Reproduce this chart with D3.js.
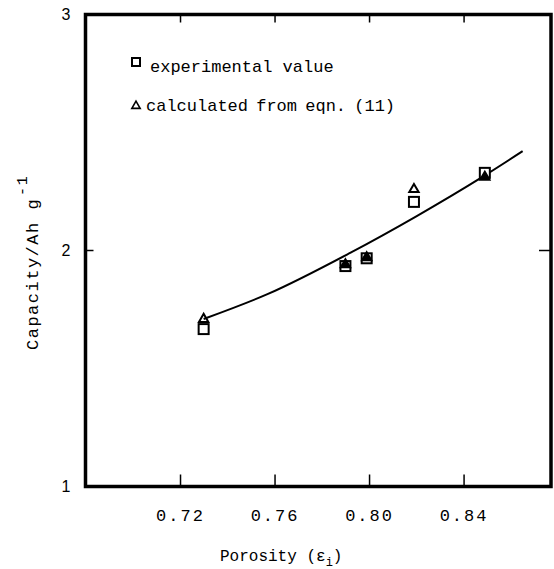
<!DOCTYPE html>
<html><head><meta charset="utf-8">
<script src="https://cdn.jsdelivr.net/npm/d3@7/dist/d3.min.js"></script>
<style>body{margin:0;background:#fff}svg{display:block}</style>
</head><body>
<script>
// Data
const porosity = [0.730, 0.790, 0.799, 0.819, 0.849];
const experimental = [1.667, 1.934, 1.967, 2.206, 2.329];
const calculated = [1.709, 1.940, 1.970, 2.259, 2.311];
const curveX = [0.730, 0.757, 0.792, 0.820, 0.848, 0.865];
const curveY = [1.710, 1.815, 1.990, 2.145, 2.312, 2.421];
const xTicks = [0.72, 0.76, 0.80, 0.84];
const yTicks = [1, 2, 3];
const legendLabels = ["experimental value", "calculated from eqn. (11)"];

(function () {
const W = 554, H = 569;
const L = 85.5, R = 551, T = 14.5, B = 486.5;
const svg = d3.select("body").append("svg").attr("width", W).attr("height", H);
const x = d3.scaleLinear().domain([0.68, 0.877]).range([L, R]);
const y = d3.scaleLinear().domain([1, 3]).range([B, T]);
const mono = "'Liberation Mono', 'Courier New', monospace";

// frame
svg.append("rect").attr("x", L).attr("y", T).attr("width", R - L).attr("height", B - T)
  .attr("fill", "none").attr("stroke", "#000").attr("stroke-width", 3.5);

// bottom axis ticks (inward)
const bottomAxis = svg.append("g").attr("transform", `translate(0,${B})`)
  .call(d3.axisBottom(x).tickValues(xTicks).tickSizeInner(-12).tickSizeOuter(0).tickPadding(22).tickFormat(d3.format(".2f")));
bottomAxis.select(".domain").remove();
bottomAxis.selectAll("line").attr("stroke-width", 1.5);
bottomAxis.selectAll("text").attr("font-family", mono).attr("font-size", 17).attr("letter-spacing", 2).attr("fill", "#000");

// top ticks
const topAxis = svg.append("g").attr("transform", `translate(0,${T})`)
  .call(d3.axisTop(x).tickValues(xTicks).tickSizeInner(-8).tickSizeOuter(0).tickFormat(""));
topAxis.select(".domain").remove();
topAxis.selectAll("line").attr("stroke-width", 1.5);

// left axis
const leftAxis = svg.append("g").attr("transform", `translate(${L},0)`)
  .call(d3.axisLeft(y).tickValues(yTicks).tickSize(0).tickPadding(15).tickFormat(d3.format("d")));
leftAxis.select(".domain").remove();
leftAxis.selectAll("text").attr("font-family", "'Liberation Sans', Arial, sans-serif").attr("font-size", 16).attr("fill", "#000");
svg.append("g").selectAll("line").data([2]).join("line")
  .attr("x1", L).attr("x2", L + 8).attr("y1", d => y(d)).attr("y2", d => y(d)).attr("stroke", "#000").attr("stroke-width", 1.5);
// right ticks
svg.append("g").selectAll("line").data([2]).join("line")
  .attr("x1", R - 12).attr("x2", R).attr("y1", d => y(d)).attr("y2", d => y(d)).attr("stroke", "#000").attr("stroke-width", 1.5);

// curve
const line = d3.line().x(d => x(d[0])).y(d => y(d[1])).curve(d3.curveMonotoneX);
svg.append("path").datum(d3.zip(curveX, curveY)).attr("d", line)
  .attr("fill", "none").attr("stroke", "#000").attr("stroke-width", 2);

// markers
const sq = 10;
const pts = porosity.map((p, i) => ({p, e: experimental[i], c: calculated[i]}));
svg.append("g").selectAll("rect").data(pts).join("rect")
  .attr("x", d => x(d.p) - sq / 2).attr("y", d => y(d.e) - sq / 2)
  .attr("width", sq).attr("height", sq).attr("fill", "#fff").attr("stroke", "#000").attr("stroke-width", 2);
const tri = d3.symbol().type(d3.symbolTriangle).size(38);
svg.append("g").selectAll("path").data(pts).join("path")
  .attr("transform", d => `translate(${x(d.p)},${y(d.c)})`).attr("d", tri)
  .attr("fill", d => Math.abs(y(d.c) - y(d.e)) < 6 ? "#000" : "none")
  .attr("stroke", "#000").attr("stroke-width", 2);

// legend
svg.append("rect").attr("x", 132).attr("y", 58).attr("width", 8).attr("height", 8)
  .attr("fill", "#fff").attr("stroke", "#000").attr("stroke-width", 2);
svg.append("path").attr("transform", "translate(136,106)").attr("d", d3.symbol().type(d3.symbolTriangle).size(30))
  .attr("fill", "none").attr("stroke", "#000").attr("stroke-width", 1.6);
svg.append("text").attr("x", 150).attr("y", 72).text(legendLabels[0])
  .attr("font-family", mono).attr("font-size", 17).attr("fill", "#000");
svg.append("text").attr("x", 146).attr("y", 111).text(legendLabels[1])
  .attr("font-family", mono).attr("font-size", 17).attr("word-spacing", -2).attr("fill", "#000");

// x title
const xt = svg.append("text").attr("x", 220).attr("y", 561)
  .attr("font-family", mono).attr("font-size", 16).attr("fill", "#000");
xt.append("tspan").text("Porosity (ε");
xt.append("tspan").attr("dy", 5).attr("font-size", 12).text("i");
xt.append("tspan").attr("dy", -5).text(")");

// y title
const yt = svg.append("text").attr("transform", "translate(38,350) rotate(-90)").attr("font-family", mono).attr("font-size", 17).attr("letter-spacing", 1.5).attr("fill", "#000");
yt.append("tspan").text("Capacity/Ah g");
yt.append("tspan").attr("dy", -11).attr("dx", 2).attr("font-size", 15).text("-1");
})();
</script>
</body></html>
